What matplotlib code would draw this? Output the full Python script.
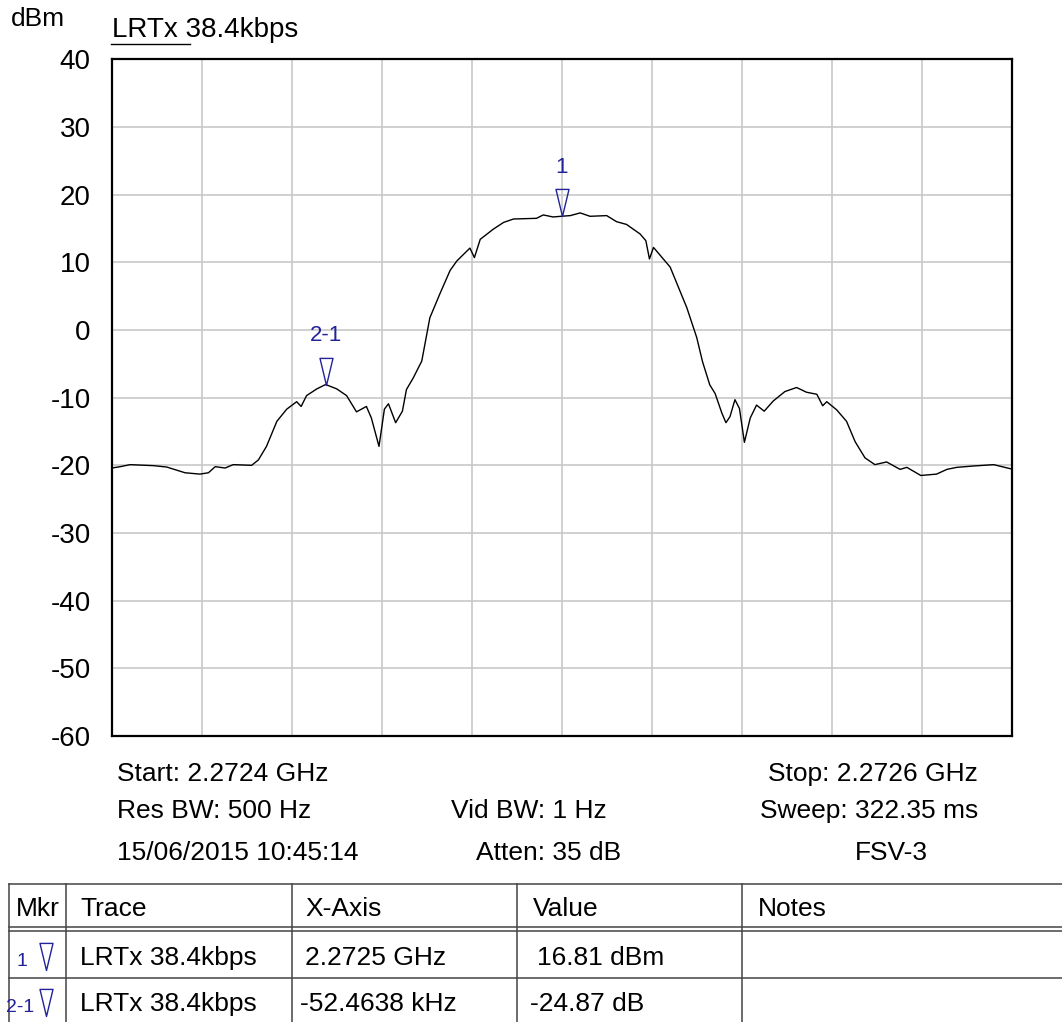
import matplotlib
matplotlib.use("Agg")
import matplotlib.pyplot as plt
from matplotlib.path import Path

plt.rcParams['font.family'] = ['Liberation Sans', 'DejaVu Sans']

# trace: offset from centre frequency (kHz) and level (dBm)
freq_khz = [-100, -98.1, -95.9, -90.7, -87.8, -83.7, -80.4, -78.5, -77, -74.8,
            -73, -68.9, -67.4, -65.6, -63.3, -61.1, -58.9, -57.9, -56.7, -54.4,
            -52.46, -50, -47.8, -45.6, -43.4, -42.3, -40.6, -39.4, -38.5, -36.9,
            -35.4, -34.5, -33.0, -31.1, -29.3, -27.1, -24.8, -23.3, -20.4, -19.4,
            -18.1, -15.2, -12.9, -10.7, -5.6, -4.1, -1.9, 0, 1.9, 4.1,
            6.3, 10, 12.2, 14.4, 17.4, 18.7, 19.5, 20.4, 24.1, 27.8,
            30, 31.3, 32.9, 34.1, 35.6, 36.5, 37.4, 38.5, 39.5, 40.6,
            41.9, 43.3, 45, 47, 49.6, 52.2, 54.4, 56.7, 58, 58.9,
            61.1, 63.3, 65.2, 67.4, 69.6, 72.2, 75.2, 76.7, 79.8, 83.3,
            85.6, 87.8, 91.5, 96, 99.7]
level_dbm = [-20.4, -20.2, -19.9, -20.05, -20.25, -21.1, -21.3, -21.1, -20.2, -20.4,
             -19.9, -20, -19.2, -17.2, -13.5, -11.7, -10.6, -11.3, -9.7, -8.7,
             -8.06, -8.7, -9.7, -12.1, -11.3, -13, -17.2, -11.7, -10.9, -13.7,
             -12, -8.8, -7.1, -4.6, 1.8, 5.3, 8.8, 10.2, 12.1, 10.7,
             13.4, 14.9, 15.9, 16.4, 16.5, 17, 16.7, 16.81, 16.9, 17.3,
             16.8, 16.9, 16.0, 15.6, 14.2, 13.2, 10.5, 12.2, 9.3, 3.3,
             -1.1, -4.7, -8.1, -9.4, -12.3, -13.7, -12.8, -10.3, -11.6, -16.6,
             -13.0, -11.1, -12, -10.5, -9.1, -8.5, -9.2, -9.5, -11.2, -10.6,
             -11.8, -13.5, -16.5, -18.9, -19.9, -19.5, -20.6, -20.3, -21.5, -21.3,
             -20.6, -20.3, -20.1, -19.9, -20.5]

marker_names = ['1', '2-1']
marker_x = [0, -52.4638]
marker_y = [16.81, -8.06]

yticks = [40, 30, 20, 10, 0, -10, -20, -30, -40, -50, -60]

info_rows = [
    [("Start: 2.2724 GHz", 117, 'left'), ("Stop: 2.2726 GHz", 978, 'right')],
    [("Res BW: 500 Hz", 117, 'left'), ("Vid BW: 1 Hz", 451, 'left'), ("Sweep: 322.35 ms", 978, 'right')],
    [("15/06/2015 10:45:14", 117, 'left'), ("Atten: 35 dB", 476, 'left'), ("FSV-3", 928, 'right')],
]
info_y = [774, 811, 853]

table_header = ["Mkr", "Trace", "X-Axis", "Value", "Notes"]
table_rows = [
    ["1", "LRTx 38.4kbps", "2.2725 GHz", "16.81 dBm", ""],
    ["2-1", "LRTx 38.4kbps", "-52.4638 kHz", "-24.87 dB", ""],
]

W, H = 1062, 1022
blue = '#22229a'
tri = Path([(0, 0), (-0.24, 1), (0.24, 1), (0, 0)],
           [Path.MOVETO, Path.LINETO, Path.LINETO, Path.CLOSEPOLY])

fig = plt.figure(figsize=(W / 100, H / 100), dpi=100)

# overlay in pixel units for the text around the screen
ov = fig.add_axes([0, 0, 1, 1])
ov.set_xlim(0, W)
ov.set_ylim(H, 0)
ov.axis('off')

ax = fig.add_axes([111.7 / W, 1 - 736 / H, 900 / W, (736 - 59.3) / H])
ax.plot(freq_khz, level_dbm, color='black', lw=1.0, zorder=3)
ax.set_xlim(-100, 100)
ax.set_ylim(-60, 40)
ax.set_xticks(range(-80, 100, 20))
ax.set_xticklabels([])
ax.set_yticks(yticks)
ax.set_yticklabels([str(v) for v in yticks], fontsize=20)
ax.tick_params(length=0, pad=15)
ax.grid(True, color='#c8c8c8', lw=1.2)
for s in ax.spines.values():
    s.set_linewidth(1.6)

for name, mx, my in zip(marker_names, marker_x, marker_y):
    ax.plot([mx], [my], marker=tri, markersize=39, markerfacecolor='none',
            markeredgecolor=blue, markeredgewidth=1.0, linestyle='', zorder=4)
    ax.annotate(name, (mx, my), xytext=(0, 35), textcoords='offset points',
                ha='center', va='center', color=blue, fontsize=16)

ov.text(11, 19, "dBm", fontsize=19, va='center', ha='left')
ov.text(112, 30, "LRTx 38.4kbps", fontsize=20, va='center', ha='left')
ov.plot([111, 190], [44, 44], color='black', lw=1)

for row, yy in zip(info_rows, info_y):
    for txt, xx, ha in row:
        ov.text(xx, yy, txt, fontsize=19, va='center', ha=ha)

# marker table
lc = '#444444'
for yy in [884, 927.3, 931.3, 978.3]:
    ov.plot([9, W], [yy, yy], color=lc, lw=1.1)
for xx in [9, 66, 291.5, 517, 742]:
    ov.plot([xx, xx], [884, H], color=lc, lw=1.1)

col_x = [16, 80, 305, 533, 758]
for txt, xx in zip(table_header, col_x):
    ov.text(xx, 909, txt, fontsize=19, va='center', ha='left')

row_y = [958, 1004]
tip_y = [970, 1016]
for row, yy, ty in zip(table_rows, row_y, tip_y):
    ov.text(22 if row[0] == '1' else 20, yy + 3, row[0], fontsize=14, color=blue,
            va='center', ha='center')
    ov.plot([46], [ty], marker=tri, markersize=39, markerfacecolor='none',
            markeredgecolor=blue, markeredgewidth=1.0, linestyle='')
    ov.text(col_x[1], yy, row[1], fontsize=19, va='center', ha='left')
    ov.text(col_x[2] - (5 if row[2].startswith('-') else 0), yy, row[2],
            fontsize=19, va='center', ha='left')
    ov.text(col_x[3] + (4 if not row[3].startswith('-') else -3), yy, row[3],
            fontsize=19, va='center', ha='left')

fig.savefig("out.png", dpi=100)
